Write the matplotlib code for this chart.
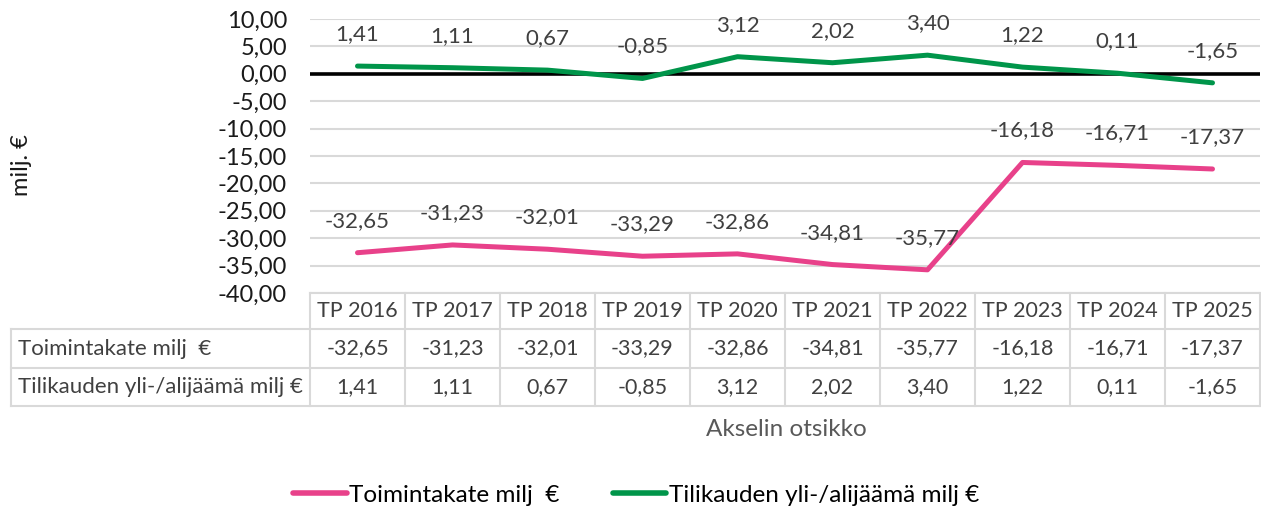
import matplotlib
matplotlib.use("Agg")
import matplotlib.pyplot as plt
from matplotlib.lines import Line2D
from matplotlib.ticker import FuncFormatter, MultipleLocator
from matplotlib.transforms import blended_transform_factory

plt.rcParams['font.family'] = ['Lato', 'DejaVu Sans']

years = ['TP 2016', 'TP 2017', 'TP 2018', 'TP 2019', 'TP 2020',
         'TP 2021', 'TP 2022', 'TP 2023', 'TP 2024', 'TP 2025']
toimintakate = [-32.65, -31.23, -32.01, -33.29, -32.86,
                -34.81, -35.77, -16.18, -16.71, -17.37]
tilikausi = [1.41, 1.11, 0.67, -0.85, 3.12, 2.02, 3.40, 1.22, 0.11, -1.65]
series_names = ['Toimintakate milj  €', 'Tilikauden yli-/alijäämä milj €']

PINK = '#E8418A'
GREEN = '#00954A'
GRID = '#D9D9D9'
TXT = '#404040'
W, H = 1261, 511


def fmt(v):
    return f"{v:.2f}".replace('.', ',')


def fy(y):
    return 1 - y / H


def main():
    fig = plt.figure(figsize=(W / 100, H / 100), dpi=100)
    ax = fig.add_axes([310 / W, fy(293), (1260 - 310) / W, (293 - 19) / H])
    x = list(range(len(years)))

    ax.set_xlim(-0.5, len(years) - 0.5)
    ax.set_ylim(-40, 10)
    ax.yaxis.set_major_locator(MultipleLocator(5))
    ax.yaxis.set_major_formatter(FuncFormatter(lambda v, p: fmt(v)))
    ax.set_xticks([])
    ax.tick_params(axis='y', length=0, labelsize=17, pad=16.5, labelcolor='#1a1a1a')
    for s in ax.spines.values():
        s.set_visible(False)
    ax.grid(axis='y', color=GRID, lw=1.5)
    ax.set_axisbelow(True)
    ax.axhline(0, color='black', lw=2.6, zorder=2)

    l1, = ax.plot(x, toimintakate, color=PINK, lw=3.6, solid_capstyle='round',
                  zorder=3, label=series_names[0])
    l2, = ax.plot(x, tilikausi, color=GREEN, lw=3.6, solid_capstyle='round',
                  zorder=3, label=series_names[1])
    for vals in (toimintakate, tilikausi):
        for xi, v in zip(x, vals):
            ax.annotate(fmt(v), (xi, v), xytext=(0, 23), textcoords='offset points',
                        ha='center', va='center', fontsize=16, color=TXT)

    fig.text(22 / W, fy(165), 'milj. €', rotation=90, ha='center', va='center',
             fontsize=17, color='#1a1a1a')

    # data table under the plot
    tr = blended_transform_factory(ax.transData, fig.transFigure)
    rows_y = [293, 329, 368, 406]
    for i in range(len(years) + 1):
        fig.add_artist(Line2D([i - 0.5, i - 0.5], [fy(rows_y[0]), fy(rows_y[-1])],
                              transform=tr, color=GRID, lw=1.5))
    fig.add_artist(Line2D([310 / W, 1260 / W], [fy(293), fy(293)], color=GRID, lw=1.5))
    for yy in rows_y[1:]:
        fig.add_artist(Line2D([11 / W, 1260 / W], [fy(yy), fy(yy)], color=GRID, lw=1.5))
    fig.add_artist(Line2D([11 / W, 11 / W], [fy(329), fy(406)], color=GRID, lw=1.5))

    for xi, lab in zip(x, years):
        fig.text(xi, fy(311), lab, transform=tr, ha='center', va='center',
                 fontsize=15.5, color=TXT)
    for r, (name, vals) in enumerate(zip(series_names, (toimintakate, tilikausi))):
        yc = fy((rows_y[r + 1] + rows_y[r + 2]) / 2)
        fig.text(18 / W, yc, name, ha='left', va='center', fontsize=16, color=TXT)
        for xi, v in zip(x, vals):
            fig.text(xi, yc, fmt(v), transform=tr, ha='center', va='center',
                     fontsize=15.5, color=TXT)

    fig.text(786 / W, fy(430), 'Akselin otsikko', ha='center', va='center',
             fontsize=17.5, color='#595959')

    leg = fig.legend(handles=[l1, l2], loc='center', bbox_to_anchor=(636 / W, fy(495)),
                     ncol=2, frameon=False, fontsize=17.5, handlelength=2.2,
                     handletextpad=0.1, columnspacing=2.2)
    for h in leg.legend_handles:
        h.set_linewidth(4)

    fig.savefig('out.png', dpi=100)


if __name__ == "__main__":
    main()
